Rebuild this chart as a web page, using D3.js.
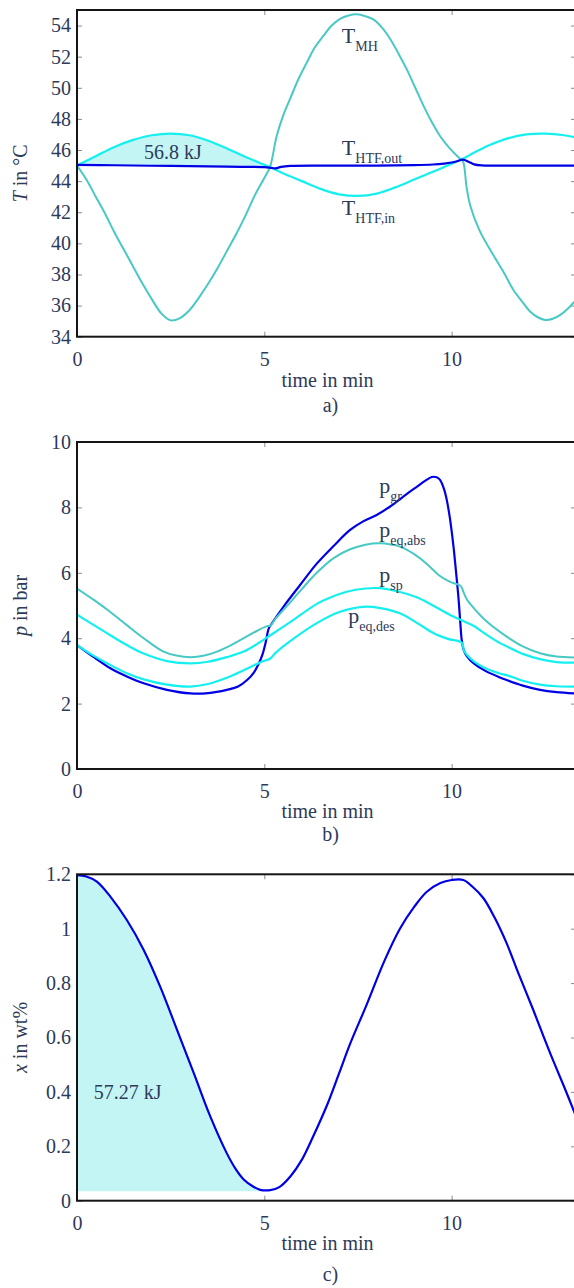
<!DOCTYPE html>
<html>
<head>
<meta charset="utf-8">
<script src="https://cdn.jsdelivr.net/npm/d3@7"></script>
<style>
  html, body { margin: 0; padding: 0; background: #fff; }
  svg { display: block; }
  svg text { font-family: "Liberation Serif", "DejaVu Serif", serif; }
</style>
</head>
<body>
<svg id="chart" width="574" height="1288"></svg>
<script>
"use strict";

// ---- data: [time in min, value] ----
const timeTicks = [0, 5, 10]

// a) temperatures in °C
const tempTicks = [34, 36, 38, 40, 42, 44, 46, 48, 50, 52, 54]
const T_MH = [[0,45.0],[0.25,44.1],[0.5,43.0],[0.75,41.9],[1.0,40.7],[1.25,39.6],[1.5,38.5],[1.75,37.4],[2.0,36.4],[2.25,35.5],[2.5,35.05],[2.75,35.2],[3.0,35.7],[3.25,36.5],[3.5,37.4],[3.75,38.4],[4.0,39.5],[4.25,40.6],[4.5,41.8],[4.75,43.1],[5.0,44.2],[5.15,44.9],[5.33,46.9],[5.5,48.2],[5.69,49.3],[5.9,50.5],[6.13,51.6],[6.35,52.6],[6.58,53.35],[6.8,54.0],[7.02,54.43],[7.25,54.65],[7.47,54.72],[7.7,54.6],[7.91,54.4],[8.13,53.9],[8.36,53.14],[8.58,52.2],[8.8,51.2],[9.03,50.0],[9.25,48.84],[9.47,47.8],[9.69,46.9],[9.95,46.1],[10.22,45.45],[10.3,45.3],[10.4,43.6],[10.5,42.4],[10.75,40.8],[11.1,39.3],[11.4,38.1],[11.65,37.0],[11.9,36.2],[12.1,35.6],[12.3,35.25],[12.5,35.08],[12.7,35.15],[12.9,35.4],[13.1,35.8],[13.32,36.35]]
const T_HTF_in = [[0,45.0],[0.5,45.6],[1.0,46.2],[1.5,46.65],[2.0,46.95],[2.5,47.05],[3.0,46.95],[3.5,46.6],[4.0,46.1],[4.5,45.55],[5.15,44.9],[5.5,44.5],[6.0,44.0],[6.5,43.5],[7.0,43.15],[7.5,43.05],[8.0,43.2],[8.5,43.6],[9.0,44.1],[9.5,44.6],[10.27,45.4],[10.5,45.7],[11.0,46.3],[11.5,46.75],[12.0,47.0],[12.5,47.05],[13.0,46.95],[13.32,46.8]]
const T_HTF_out = [[0,45.05],[1,45.02],[2,44.99],[3,44.96],[4,44.93],[5.0,44.9],[5.15,44.87],[5.3,44.82],[5.45,44.92],[5.7,44.98],[6.5,45.0],[8,45.0],[9,45.03],[9.5,45.07],[9.8,45.13],[10.0,45.2],[10.15,45.28],[10.3,45.38],[10.45,45.25],[10.6,45.08],[10.8,45.01],[11.5,45.0],[13.32,45.0]]

// b) pressures in bar
const presTicks = [0, 2, 4, 6, 8, 10]
const p_gr = [[0,3.79],[0.45,3.42],[0.89,3.08],[1.33,2.83],[1.78,2.62],[2.4,2.42],[3.03,2.31],[3.5,2.32],[4.0,2.42],[4.3,2.52],[4.54,2.72],[4.72,2.95],[4.85,3.22],[4.95,3.5],[5.03,3.84],[5.12,4.3],[5.2,4.45],[5.51,4.96],[5.95,5.62],[6.4,6.28],[6.85,6.82],[7.29,7.31],[7.65,7.58],[8.0,7.77],[8.35,8.02],[8.71,8.33],[9.07,8.63],[9.3,8.82],[9.47,8.93],[9.6,8.92],[9.69,8.84],[9.8,8.55],[9.87,8.23],[9.95,7.7],[10.05,6.8],[10.12,6.0],[10.18,5.27],[10.23,4.5],[10.27,3.94],[10.32,3.65],[10.4,3.46],[10.6,3.22],[10.9,3.0],[11.29,2.8],[11.47,2.72],[11.9,2.55],[12.36,2.42],[12.8,2.35],[13.32,2.31]]
const p_eq_abs = [[0,5.52],[0.45,5.17],[0.89,4.8],[1.33,4.4],[1.78,4.0],[2.31,3.59],[2.65,3.47],[3.03,3.42],[3.4,3.47],[3.74,3.59],[4.1,3.78],[4.45,4.0],[4.8,4.22],[5.07,4.37],[5.16,4.38],[5.3,4.6],[5.6,4.98],[6.0,5.5],[6.4,6.0],[6.85,6.45],[7.29,6.72],[7.7,6.86],[8.09,6.9],[8.4,6.86],[8.62,6.8],[9.0,6.57],[9.33,6.28],[9.69,5.9],[9.96,5.72],[10.24,5.6],[10.32,5.4],[10.4,5.2],[10.49,5.06],[10.9,4.55],[11.47,4.05],[11.9,3.75],[12.36,3.54],[12.8,3.44],[13.32,3.41]]
const p_sp = [[0,4.72],[0.45,4.4],[0.89,4.09],[1.33,3.79],[1.78,3.53],[2.4,3.3],[3.03,3.23],[3.5,3.28],[4.0,3.42],[4.45,3.59],[4.8,3.82],[5.16,4.09],[5.7,4.5],[6.4,5.05],[6.67,5.2],[7.2,5.42],[7.7,5.52],[8.09,5.53],[8.6,5.42],[9.07,5.25],[9.5,5.0],[9.96,4.71],[10.3,4.53],[10.58,4.38],[10.85,4.17],[11.29,3.85],[11.47,3.75],[11.9,3.52],[12.36,3.36],[12.8,3.27],[13.32,3.25]]
const p_eq_des = [[0,3.79],[0.45,3.46],[0.89,3.18],[1.33,2.93],[1.78,2.74],[2.4,2.58],[3.03,2.52],[3.5,2.6],[4.0,2.79],[4.45,3.02],[4.89,3.26],[5.16,3.38],[5.3,3.55],[5.8,4.0],[6.4,4.46],[7.0,4.8],[7.64,4.96],[8.1,4.92],[8.62,4.76],[9.1,4.45],[9.51,4.16],[9.9,3.98],[10.27,3.86],[10.33,3.62],[10.4,3.5],[10.6,3.28],[10.9,3.08],[11.29,2.92],[11.47,2.87],[11.9,2.7],[12.36,2.58],[12.8,2.53],[13.32,2.52]]

// c) loading in wt%
const loadTicks = [0, 0.2, 0.4, 0.6, 0.8, 1, 1.2]
const x_load = [[0,1.197],[0.25,1.192],[0.53,1.173],[0.89,1.118],[1.33,1.032],[1.78,0.922],[2.22,0.787],[2.67,0.628],[3.12,0.468],[3.56,0.309],[4.0,0.174],[4.22,0.12],[4.45,0.078],[4.7,0.052],[4.89,0.04],[5.16,0.039],[5.4,0.05],[5.7,0.09],[6.0,0.15],[6.3,0.235],[6.67,0.35],[7.0,0.47],[7.3,0.58],[7.73,0.72],[8.2,0.88],[8.62,1.0],[9.0,1.08],[9.33,1.135],[9.7,1.168],[10.0,1.179],[10.31,1.179],[10.55,1.155],[10.85,1.112],[11.15,1.04],[11.47,0.946],[11.8,0.83],[12.18,0.701],[12.45,0.605],[12.72,0.512],[13.0,0.42],[13.32,0.31]]
const loadFillBase = 0.035

// ---- style ----
const textColor = "#2d3a58"
const blue = "#0000e6", teal = "#48c9c4", cyan = "#14f0f0", fillColor = "#c4f5f5"
const left = 77, right = 576
const fontSize = 20

const svg = d3.select("#chart")
const x = d3.scaleLinear().domain([0, 13.32]).range([left, right])
const curve = d3.curveCatmullRom.alpha(0.5)

function interpAt(series, t){
  let i = d3.bisector(d => d[0]).left(series, t)
  if (i <= 0) return series[0][1]
  if (i >= series.length) return series[series.length - 1][1]
  let [t0, v0] = series[i - 1], [t1, v1] = series[i]
  return v0 + (v1 - v0) * (t - t0) / (t1 - t0)
}

/**
 * Draws the boxed frame, axes and labels of one panel and returns its y scale
 */
function drawPanel(id, top, bottom, yDomain, yTicks, yVar, yRest, caption, titleY, captionY){
  let y = d3.scaleLinear().domain(yDomain).range([bottom, top])
  let g = svg.append("g").attr("id", id)

  g.append("clipPath").attr("id", id + "-clip")
    .append("rect").attr("x", left).attr("y", top)
    .attr("width", right - left).attr("height", bottom - top)

  let styleAxis = sel => {
    sel.attr("font-family", null)
    sel.select(".domain").remove()
    sel.selectAll(".tick line").attr("stroke", "#8a8a8a")
    sel.selectAll("text").attr("font-size", fontSize).attr("fill", textColor)
  }

  g.append("g").attr("transform", "translate(0," + bottom + ")")
    .call(d3.axisBottom(x).tickValues(timeTicks).tickSize(-5).tickPadding(15))
    .call(styleAxis)
  g.append("g").attr("transform", "translate(0," + top + ")")
    .call(d3.axisTop(x).tickValues(timeTicks).tickSize(-5).tickFormat(""))
    .call(styleAxis)
  g.append("g").attr("transform", "translate(" + left + ",0)")
    .call(d3.axisLeft(y).tickValues(yTicks).tickSize(-5).tickPadding(6).tickFormat(d3.format("~g")))
    .call(styleAxis)
  g.append("g").attr("transform", "translate(" + right + ",0)")
    .call(d3.axisRight(y).tickValues(yTicks).tickSize(-5).tickFormat(""))
    .call(styleAxis)

  let mid = (top + bottom) / 2
  let yl = g.append("text")
    .attr("transform", "translate(27," + mid + ") rotate(-90)")
    .attr("text-anchor", "middle")
    .attr("font-size", fontSize).attr("fill", textColor)
  yl.append("tspan").attr("font-style", "italic").text(yVar)
  yl.append("tspan").text(yRest)

  g.append("text")
    .attr("x", (left + right) / 2 + 1).attr("y", titleY)
    .attr("text-anchor", "middle")
    .attr("font-size", fontSize).attr("fill", textColor)
    .text("time in min")
  g.append("text")
    .attr("x", (left + right) / 2 + 4).attr("y", captionY)
    .attr("text-anchor", "middle")
    .attr("font-size", fontSize).attr("fill", textColor)
    .text(caption)

  let plot = g.append("g").attr("clip-path", "url(#" + id + "-clip)")
  let frame = () => g.append("rect")
    .attr("x", left).attr("y", top)
    .attr("width", right - left).attr("height", bottom - top)
    .attr("fill", "none").attr("stroke", "#151515").attr("stroke-width", 2)
  return {g, plot, y, frame}
}

function addLine(plot, y, series, color, width){
  plot.append("path")
    .datum(series)
    .attr("fill", "none")
    .attr("stroke", color)
    .attr("stroke-width", width)
    .attr("stroke-linejoin", "round")
    .attr("d", d3.line().x(d => x(d[0])).y(d => y(d[1])).curve(curve))
}

function addLabel(g, xPx, yPx, main, sub){
  let t = g.append("text")
    .attr("x", xPx).attr("y", yPx)
    .attr("font-size", 22).attr("fill", textColor)
  t.append("tspan").text(main)
  t.append("tspan").attr("font-size", 14).attr("dy", 8).text(sub)
}

// ---- a) ----
let a = drawPanel("panel-a", 10, 336.7, [34, 55], tempTicks, "T", " in °C", "a)", 387, 412)
let fillA = T_HTF_in.filter(d => d[0] <= 5.15)
a.plot.append("path")
  .datum(fillA)
  .attr("fill", fillColor)
  .attr("d", d3.area()
    .x(d => x(d[0]))
    .y0(d => a.y(interpAt(T_HTF_out, d[0])))
    .y1(d => a.y(d[1]))
    .curve(curve))
addLine(a.plot, a.y, T_MH, teal, 2)
addLine(a.plot, a.y, T_HTF_in, cyan, 2.2)
addLine(a.plot, a.y, T_HTF_out, blue, 2.2)
a.frame()
addLabel(a.g, x(7.07), a.y(52.86), "T", "MH")
addLabel(a.g, x(7.07), a.y(45.68), "T", "HTF,out")
addLabel(a.g, x(7.07), a.y(41.82), "T", "HTF,in")
a.g.append("text")
  .attr("x", x(2.56)).attr("y", a.y(45.4))
  .attr("text-anchor", "middle")
  .attr("font-size", fontSize).attr("fill", textColor)
  .text("56.8 kJ")

// ---- b) ----
let b = drawPanel("panel-b", 442, 769, [0, 10], presTicks, "p", " in bar", "b)", 818, 841)
addLine(b.plot, b.y, p_gr, blue, 2.2)
addLine(b.plot, b.y, p_eq_abs, teal, 2)
addLine(b.plot, b.y, p_sp, cyan, 2.2)
addLine(b.plot, b.y, p_eq_des, cyan, 2.2)
b.frame()
addLabel(b.g, x(8.07), b.y(8.43), "p", "gr")
addLabel(b.g, x(8.07), b.y(7.1), "p", "eq,abs")
addLabel(b.g, x(8.07), b.y(5.73), "p", "sp")
addLabel(b.g, x(7.24), b.y(4.46), "p", "eq,des")

// ---- c) ----
let c = drawPanel("panel-c", 874.3, 1200.7, [0, 1.2], loadTicks, "x", " in wt%", "c)", 1250, 1281)
let fillC = x_load.filter(d => d[0] <= 5.0)
c.plot.append("path")
  .datum(fillC)
  .attr("fill", fillColor)
  .attr("d", d3.area()
    .x(d => x(d[0]))
    .y0(c.y(loadFillBase))
    .y1(d => c.y(d[1]))
    .curve(curve))
addLine(c.plot, c.y, x_load, blue, 2.2)
c.frame()
c.g.append("text")
  .attr("x", x(0.445)).attr("y", c.y(0.373))
  .attr("font-size", fontSize).attr("fill", textColor)
  .text("57.27 kJ")
</script>
</body>
</html>
